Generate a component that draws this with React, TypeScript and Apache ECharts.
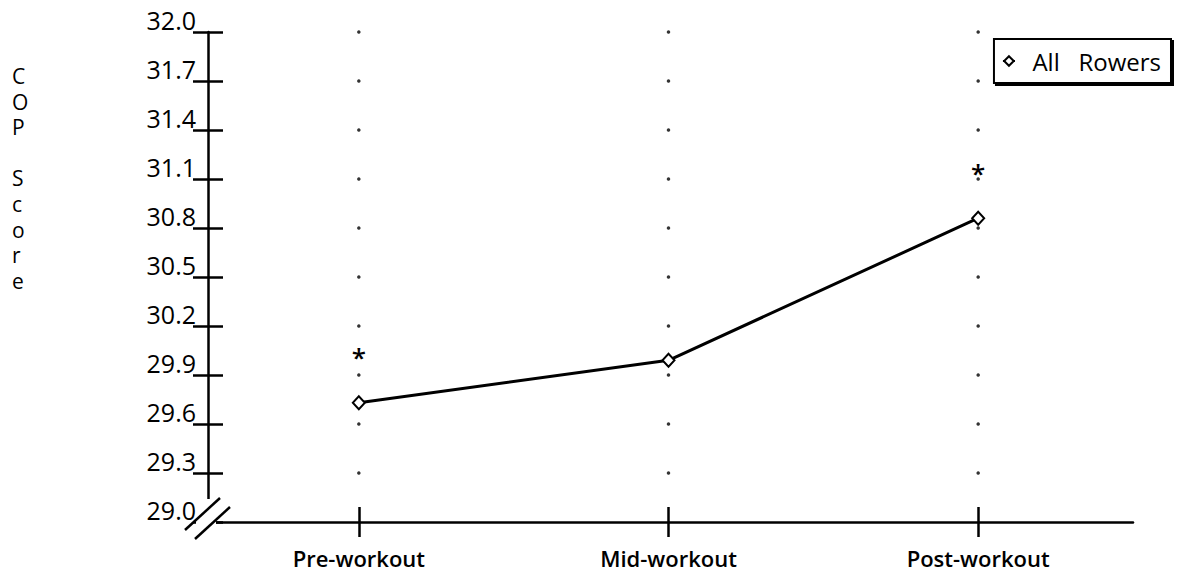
import React, { useEffect, useRef } from "react";
import * as echarts from "echarts";

const categories = ["Pre-workout", "Mid-workout", "Post-workout"];
const copScores = [29.73, 29.99, 30.86];
const significant = [true, false, true];
const tickValues = [29.0, 29.3, 29.6, 29.9, 30.2, 30.5, 30.8, 31.1, 31.4, 31.7, 32.0];
const seriesName = "All Rowers";
const yTitle = "COP Score";

const FONT = "'Open Sans', sans-serif";

export default function App() {
  const ref = useRef<HTMLDivElement>(null);
  useEffect(() => {
    if (!ref.current) return;
    const chart = echarts.init(ref.current, undefined, { renderer: "svg" });

    const dots: [string, number][] = [];
    categories.forEach((c) => {
      tickValues.slice(1).forEach((t) => dots.push([c, t]));
    });

    const titleLetters = yTitle.split("");

    const yBase = {
      type: "value" as const,
      min: 29.0,
      max: 32.0,
      interval: 0.3,
      offset: -4,
      splitLine: { show: false },
    };

    const xBase = {
      type: "category" as const,
      data: categories,
      boundaryGap: true,
    };

    chart.setOption({
      animation: false,
      backgroundColor: "#ffffff",
      textStyle: { fontFamily: FONT },
      grid: { left: 204, right: 55, top: 32, bottom: 63, containLabel: false },
      legend: {
        data: [seriesName],
        right: 17,
        top: 39,
        orient: "vertical",
        itemWidth: 12,
        itemHeight: 12,
        itemGap: 0,
        padding: [9, 10, 9, 8],
        borderColor: "#000",
        borderWidth: 2,
        backgroundColor: "#fff",
        shadowColor: "#000",
        shadowOffsetX: 2,
        shadowOffsetY: 2,
        shadowBlur: 0,
        textStyle: { fontFamily: FONT, fontSize: 24, fontWeight: 500, color: "#000", lineHeight: 26 },
        formatter: (n: string) => "  " + n.replace(" ", "   "),
      },
      xAxis: [
        {
          ...xBase,
          axisLine: { show: true, lineStyle: { color: "#000", width: 2.5 } },
          axisTick: { show: true, alignWithLabel: true, length: 15, lineStyle: { color: "#000", width: 2.5 } },
          axisLabel: {
            show: true,
            margin: 25,
            fontFamily: FONT,
            fontSize: 22,
            fontWeight: 600,
            color: "#000",
          },
        },
        {
          ...xBase,
          position: "bottom",
          axisLine: { show: false },
          axisTick: { show: true, inside: true, alignWithLabel: true, length: 15, lineStyle: { color: "#000", width: 2.5 } },
          axisLabel: { show: false },
        },
      ],
      yAxis: [
        {
          ...yBase,
          axisLine: { show: true, lineStyle: { color: "#000", width: 2.5 } },
          axisTick: { show: true, length: 15, lineStyle: { color: "#000", width: 2.5 } },
          axisLabel: {
            show: true,
            margin: 12,
            fontFamily: FONT,
            fontSize: 25,
            fontWeight: 500,
            color: "#000",
            verticalAlign: "bottom",
            formatter: (v: number) => v.toFixed(1),
          },
        },
        {
          ...yBase,
          position: "left",
          axisLine: { show: false },
          axisTick: { show: true, inside: true, length: 15, lineStyle: { color: "#000", width: 2.5 } },
          axisLabel: { show: false },
        },
      ],
      series: [
        {
          name: "gridDots",
          type: "scatter",
          data: dots,
          symbol: "circle",
          symbolSize: 3.5,
          itemStyle: { color: "#000" },
          silent: true,
          z: 1,
        },
        {
          name: seriesName,
          type: "line",
          data: copScores.map((v, i) => ({
            value: v,
            label: {
              show: significant[i],
              formatter: "*",
              position: "top",
              distance: 25,
              fontSize: 26,
              fontWeight: 600,
              fontFamily: FONT,
              color: "#000",
            },
          })),
          symbol: "diamond",
          symbolSize: [12, 13],
          showSymbol: true,
          lineStyle: { color: "#000", width: 3 },
          itemStyle: { color: "#fff", borderColor: "#000", borderWidth: 2 },
          z: 3,
        },
      ],
      graphic: [
        ...titleLetters.map((ch, i) => ({
          type: "text",
          left: 12,
          top: 64 + i * 25.6,
          style: {
            text: ch === " " ? "" : ch,
            fontFamily: FONT,
            fontSize: 21,
            fontWeight: 500,
            lineHeight: 24,
            fill: "#000",
          },
        })),
        {
          type: "rect",
          shape: { x: 196, y: 499, width: 20, height: 31 },
          style: { fill: "#fff" },
          z: 100,
        },
        {
          type: "line",
          shape: { x1: 185, y1: 530, x2: 220, y2: 498 },
          style: { stroke: "#000", lineWidth: 2.5 },
          z: 101,
        },
        {
          type: "line",
          shape: { x1: 195, y1: 539, x2: 230, y2: 507 },
          style: { stroke: "#000", lineWidth: 2.5 },
          z: 101,
        },
      ],
    });

    return () => chart.dispose();
  }, []);

  return <div ref={ref} style={{ width: 1188, height: 585, position: "absolute", left: 0, top: 0 }} />;
}
